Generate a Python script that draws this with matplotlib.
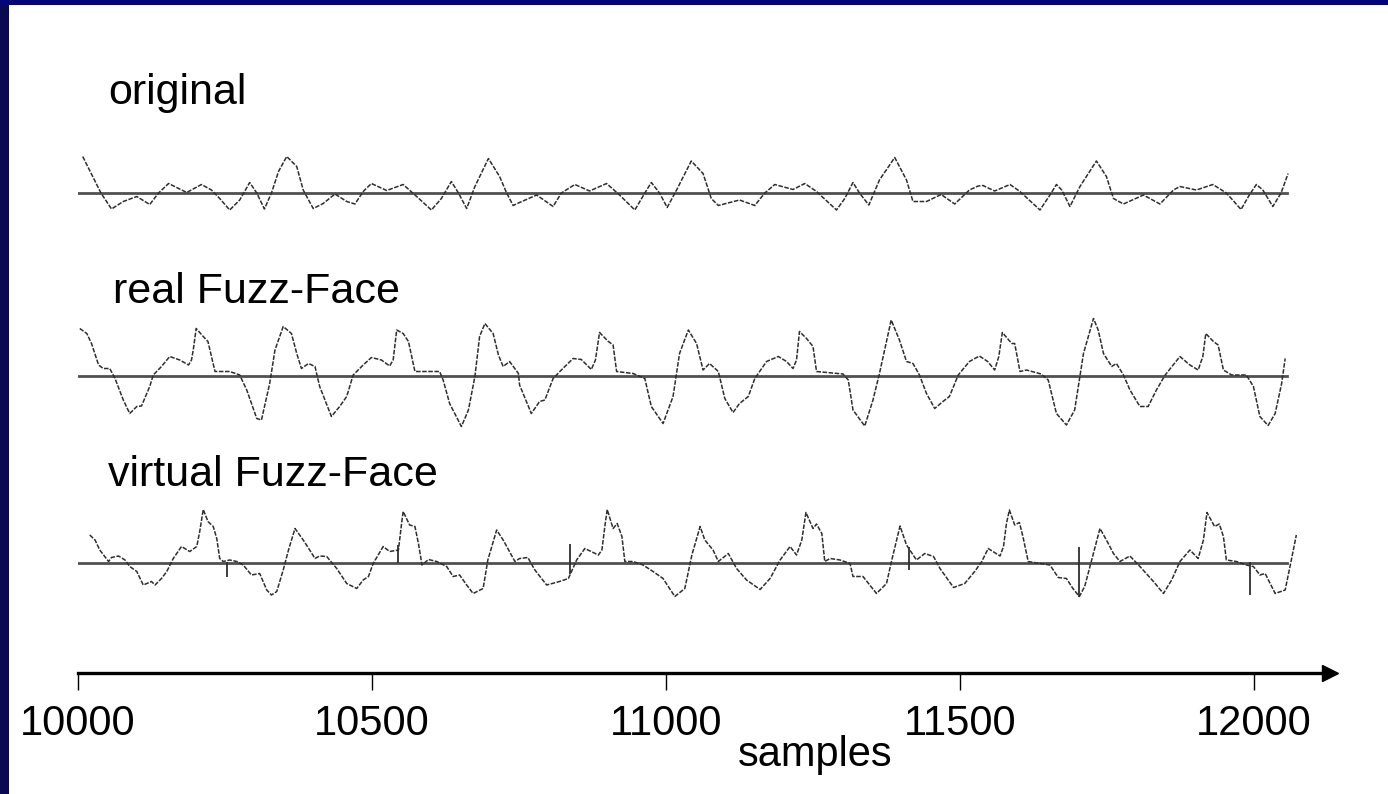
"""Original vs. real vs. virtual Fuzz-Face waveforms, samples 10000-12000."""

import matplotlib

matplotlib.use("Agg")
import matplotlib.pyplot as plt
from matplotlib.patches import Rectangle

plt.rcParams["font.family"] = ["Liberation Sans", "DejaVu Sans"]

W, H = 1388, 794

# traced points: sample index and amplitude (arbitrary units, 0 = baseline)
ORIG_X = [10008, 10039, 10057, 10077, 10100, 10122, 10137, 10154, 10185, 10210,
          10227, 10241, 10258, 10275, 10292, 10304, 10317, 10329, 10341, 10355,
          10372, 10383, 10400, 10417, 10437, 10457, 10471, 10485, 10499, 10525,
          10553, 10576, 10601, 10618, 10635, 10647, 10661, 10675, 10698, 10717,
          10729, 10740, 10751, 10780, 10808, 10822, 10845, 10870, 10899, 10921,
          10947, 10964, 10975, 10989, 11002, 11018, 11043, 11063, 11077, 11089,
          11125, 11151, 11168, 11185, 11216, 11236, 11256, 11290, 11304, 11318,
          11329, 11345, 11363, 11389, 11409, 11420, 11443, 11468, 11491, 11516,
          11531, 11539, 11559, 11585, 11602, 11636, 11653, 11664, 11673, 11687,
          11704, 11732, 11749, 11761, 11778, 11812, 11840, 11863, 11874, 11902,
          11930, 11953, 11978, 11992, 12004, 12015, 12032, 12046, 12058]
ORIG_Y = [0.73, 0.0, -0.32, -0.17, -0.07, -0.23, 0.0, 0.19, 0.01, 0.17,
          0.06, -0.11, -0.34, -0.14, 0.21, 0.0, -0.32, 0.0, 0.43, 0.73,
          0.53, 0.06, -0.31, -0.21, -0.02, -0.17, -0.22, 0.03, 0.19, 0.05,
          0.17, -0.07, -0.34, -0.11, 0.23, 0.0, -0.31, 0.13, 0.69, 0.33,
          0.0, -0.25, -0.19, -0.04, -0.27, 0.0, 0.17, 0.04, 0.19, -0.04,
          -0.34, 0.0, 0.21, 0.0, -0.29, 0.06, 0.64, 0.39, -0.11, -0.25,
          -0.14, -0.25, 0.0, 0.17, 0.07, 0.19, 0.03, -0.34, -0.11, 0.21,
          0.0, -0.24, 0.26, 0.71, 0.26, -0.17, -0.17, -0.03, -0.22, 0.06,
          0.14, 0.15, 0.04, 0.17, 0.03, -0.34, -0.04, 0.17, 0.06, -0.27,
          0.13, 0.64, 0.33, -0.11, -0.22, -0.04, -0.22, 0.06, 0.13, 0.06,
          0.17, 0.0, -0.33, -0.04, 0.17, 0.06, -0.27, 0.0, 0.39]

REAL_X = [10003, 10015, 10023, 10035, 10043, 10054, 10063, 10077, 10088, 10100,
          10108, 10122, 10128, 10142, 10156, 10173, 10188, 10193, 10196, 10201,
          10213, 10221, 10227, 10233, 10258, 10275, 10287, 10304, 10312, 10326,
          10335, 10349, 10363, 10372, 10380, 10392, 10403, 10411, 10431, 10445,
          10457, 10468, 10485, 10499, 10516, 10530, 10536, 10542, 10553, 10562,
          10567, 10573, 10615, 10621, 10632, 10652, 10664, 10675, 10683, 10692,
          10706, 10715, 10723, 10734, 10749, 10751, 10771, 10785, 10794, 10808,
          10822, 10842, 10856, 10873, 10880, 10887, 10902, 10910, 10916, 10944,
          10964, 10975, 10995, 11012, 11023, 11038, 11052, 11063, 11074, 11089,
          11100, 11114, 11125, 11140, 11151, 11171, 11191, 11205, 11216, 11222,
          11227, 11239, 11250, 11256, 11301, 11310, 11318, 11338, 11352, 11363,
          11383, 11397, 11409, 11420, 11431, 11443, 11457, 11471, 11482, 11497,
          11516, 11533, 11547, 11559, 11566, 11572, 11588, 11593, 11602, 11613,
          11638, 11650, 11664, 11681, 11695, 11710, 11727, 11735, 11744, 11758,
          11766, 11778, 11789, 11806, 11820, 11834, 11849, 11874, 11891, 11905,
          11913, 11918, 11931, 11939, 11948, 11962, 11987, 11999, 12010, 12024,
          12036, 12047, 12053]
REAL_Y = [0.95, 0.85, 0.65, 0.22, 0.15, 0.15, -0.05, -0.48, -0.75, -0.61,
          -0.6, -0.21, 0.02, 0.19, 0.39, 0.32, 0.22, 0.32, 0.52, 0.95,
          0.79, 0.69, 0.39, 0.09, 0.09, 0.02, -0.28, -0.85, -0.88, -0.15,
          0.52, 0.99, 0.85, 0.45, 0.15, 0.25, 0.19, -0.21, -0.81, -0.61,
          -0.41, 0.02, 0.22, 0.37, 0.32, 0.2, 0.32, 0.92, 0.85, 0.69,
          0.42, 0.09, 0.09, -0.08, -0.55, -1.01, -0.68, -0.01, 0.79, 1.05,
          0.85, 0.42, 0.19, 0.29, 0.05, -0.18, -0.75, -0.51, -0.48, -0.05,
          0.12, 0.35, 0.33, 0.13, 0.32, 0.87, 0.69, 0.62, 0.09, 0.05,
          -0.05, -0.61, -0.95, -0.41, 0.45, 0.92, 0.65, 0.12, 0.25, 0.09,
          -0.45, -0.73, -0.55, -0.41, -0.05, 0.29, 0.39, 0.29, 0.15, 0.32,
          0.89, 0.75, 0.59, 0.09, 0.04, -0.08, -0.68, -1.0, -0.48, 0.05,
          1.12, 0.72, 0.29, 0.25, 0.02, -0.35, -0.65, -0.51, -0.41, 0.02,
          0.29, 0.4, 0.29, 0.12, 0.39, 0.87, 0.65, 0.65, 0.09, 0.12,
          0.04, -0.08, -0.75, -0.98, -0.68, 0.45, 1.15, 0.92, 0.45, 0.19,
          0.25, 0.02, -0.28, -0.61, -0.61, -0.28, 0.02, 0.39, 0.22, 0.12,
          0.39, 0.85, 0.69, 0.62, 0.12, 0.02, 0.02, -0.21, -0.81, -0.99,
          -0.75, -0.15, 0.35]

VIRT_X = [10020, 10029, 10037, 10052, 10057, 10069, 10080, 10088, 10100, 10111,
          10125, 10131, 10142, 10151, 10162, 10176, 10190, 10202, 10207, 10213,
          10221, 10230, 10236, 10241, 10247, 10258, 10270, 10281, 10295, 10309,
          10321, 10329, 10338, 10349, 10358, 10369, 10383, 10394, 10403, 10411,
          10423, 10440, 10457, 10474, 10485, 10494, 10502, 10519, 10530, 10545,
          10550, 10553, 10564, 10573, 10579, 10585, 10596, 10610, 10627, 10638,
          10649, 10661, 10672, 10689, 10697, 10712, 10723, 10731, 10743, 10751,
          10765, 10777, 10797, 10819, 10834, 10848, 10862, 10885, 10891, 10896,
          10900, 10910, 10917, 10925, 10930, 10944, 10961, 10978, 10995, 11015,
          11032, 11044, 11058, 11066, 11080, 11089, 11106, 11120, 11137, 11160,
          11177, 11194, 11211, 11222, 11231, 11238, 11250, 11256, 11265, 11270,
          11279, 11296, 11313, 11318, 11335, 11358, 11375, 11384, 11398, 11409,
          11426, 11440, 11455, 11466, 11489, 11508, 11525, 11537, 11548, 11568,
          11574, 11579, 11584, 11593, 11601, 11607, 11616, 11636, 11653, 11667,
          11681, 11692, 11703, 11712, 11724, 11738, 11749, 11761, 11772, 11789,
          11806, 11829, 11846, 11860, 11874, 11891, 11905, 11914, 11920, 11933,
          11941, 11948, 11953, 11970, 11987, 11999, 12010, 12019, 12036, 12053,
          12064, 12072]
VIRT_Y = [0.56, 0.46, 0.26, 0.03, 0.11, 0.14, 0.06, -0.07, -0.17, -0.44,
          -0.37, -0.44, -0.31, -0.17, 0.09, 0.33, 0.23, 0.33, 0.63, 1.07,
          0.83, 0.73, 0.49, 0.09, 0.03, 0.06, 0.03, -0.04, -0.24, -0.21,
          -0.54, -0.64, -0.57, -0.14, 0.26, 0.69, 0.46, 0.26, 0.09, 0.14,
          0.13, -0.11, -0.41, -0.51, -0.34, -0.27, -0.01, 0.33, 0.23, 0.26,
          0.76, 1.03, 0.76, 0.73, 0.39, -0.04, 0.07, 0.03, -0.07, -0.27,
          -0.24, -0.44, -0.61, -0.51, 0.06, 0.66, 0.46, 0.29, 0.03, 0.09,
          0.11, -0.14, -0.44, -0.37, -0.31, 0.06, 0.29, 0.16, 0.26, 0.73,
          1.07, 0.69, 0.79, 0.53, 0.03, 0.03, -0.04, -0.17, -0.31, -0.67,
          -0.51, 0.16, 0.73, 0.46, 0.26, 0.03, 0.19, -0.11, -0.34, -0.53,
          -0.31, 0.06, 0.33, 0.16, 0.46, 1.01, 0.69, 0.78, 0.59, 0.03,
          0.09, 0.06, -0.01, -0.27, -0.27, -0.61, -0.41, 0.06, 0.74, 0.36,
          0.06, 0.19, 0.13, -0.11, -0.49, -0.41, -0.17, 0.03, 0.29, 0.14,
          0.33, 0.79, 1.06, 0.76, 0.81, 0.53, 0.03, -0.01, -0.04, -0.29,
          -0.31, -0.51, -0.67, -0.47, 0.06, 0.69, 0.46, 0.19, 0.03, 0.14,
          -0.07, -0.37, -0.61, -0.34, 0.03, 0.26, 0.09, 0.46, 1.01, 0.73,
          0.78, 0.53, 0.06, 0.03, -0.04, -0.07, -0.24, -0.21, -0.61, -0.54,
          0.09, 0.56]

# vertical glitches in the virtual output
SPIKE_X = [10253, 10545, 10836, 11414, 11703, 11994]
SPIKE_LO = [-0.28, 0.0, -0.21, -0.14, -0.67, -0.63]
SPIKE_HI = [0.02, 0.36, 0.39, 0.33, 0.33, 0.03]

TRACE_LABELS = ["original", "real Fuzz-Face", "virtual Fuzz-Face"]
TICKS = [10000, 10500, 11000, 11500, 12000]
X_START, X_END = 10000, 12056

PX_PER_SAMPLE = 0.588
AX_LEFT = 78
AX_RIGHT = 1338


def frac_x(px):
    return px / W


def frac_y(py):
    return 1 - py / H


def trace_axes(fig, baseline_px, half_px=80, unit_px=50.0):
    ax = fig.add_axes([frac_x(AX_LEFT), frac_y(baseline_px + half_px),
                       (AX_RIGHT - AX_LEFT) / W, 2 * half_px / H])
    ax.set_xlim(10000, 10000 + (AX_RIGHT - AX_LEFT) / PX_PER_SAMPLE)
    ax.set_ylim(-half_px / unit_px, half_px / unit_px)
    ax.axis("off")
    ax.patch.set_alpha(0)
    return ax


def draw_trace(ax, xs, ys):
    ax.plot([X_START, X_END], [0, 0], color="#505050", linewidth=2.0, zorder=1)
    ax.plot(xs, ys, color="#2e2e2e", linewidth=1.1, linestyle=(0, (3, 1)),
            zorder=2)


def main():
    fig = plt.figure(figsize=(W / 100, H / 100), dpi=100)
    fig.patch.set_facecolor("white")

    # slide frame
    fig.add_artist(Rectangle((0, 0), 9 / W, 1, transform=fig.transFigure,
                             facecolor="#0a0a52", edgecolor="none"))
    fig.add_artist(Rectangle((0, frac_y(5)), 1, 5 / H, transform=fig.transFigure,
                             facecolor="#05057a", edgecolor="none"))

    baselines = [193, 376, 563]
    label_pos = [(108, 104), (113, 303), (108, 486)]
    series = [(ORIG_X, ORIG_Y), (REAL_X, REAL_Y), (VIRT_X, VIRT_Y)]
    for base, (lx, ly), label, (xs, ys) in zip(baselines, label_pos, TRACE_LABELS, series):
        ax = trace_axes(fig, base)
        draw_trace(ax, xs, ys)
        if label.startswith("virtual"):
            ax.vlines(SPIKE_X, SPIKE_LO, SPIKE_HI, color="#2e2e2e", linewidth=1.3)
        fig.text(frac_x(lx), frac_y(ly), label, ha="left", va="baseline",
                 fontsize=31, color="black")

    # sample axis with arrow
    axis_y = 673
    ax = fig.add_axes([frac_x(AX_LEFT), frac_y(axis_y), (AX_RIGHT - AX_LEFT) / W, 0.001])
    ax.set_xlim(10000, 10000 + (AX_RIGHT - AX_LEFT) / PX_PER_SAMPLE)
    ax.set_ylim(0, 1)
    for side in ("top", "left", "right"):
        ax.spines[side].set_visible(False)
    ax.spines["bottom"].set_linewidth(2.4)
    ax.spines["bottom"].set_bounds(10000, 12125)
    ax.set_yticks([])
    ax.set_xticks(TICKS)
    ax.set_xticklabels([str(t) for t in TICKS])
    ax.tick_params(axis="x", direction="out", length=12.5, width=1.0,
                   labelsize=30, pad=10)
    ax.plot([12130], [0], marker=">", markersize=11, color="black",
            clip_on=False)
    fig.text(frac_x(815), frac_y(755), "samples", ha="center", va="center",
             fontsize=30)

    fig.savefig("out.png", dpi=100, facecolor="white")
    plt.close(fig)


if __name__ == "__main__":
    main()
